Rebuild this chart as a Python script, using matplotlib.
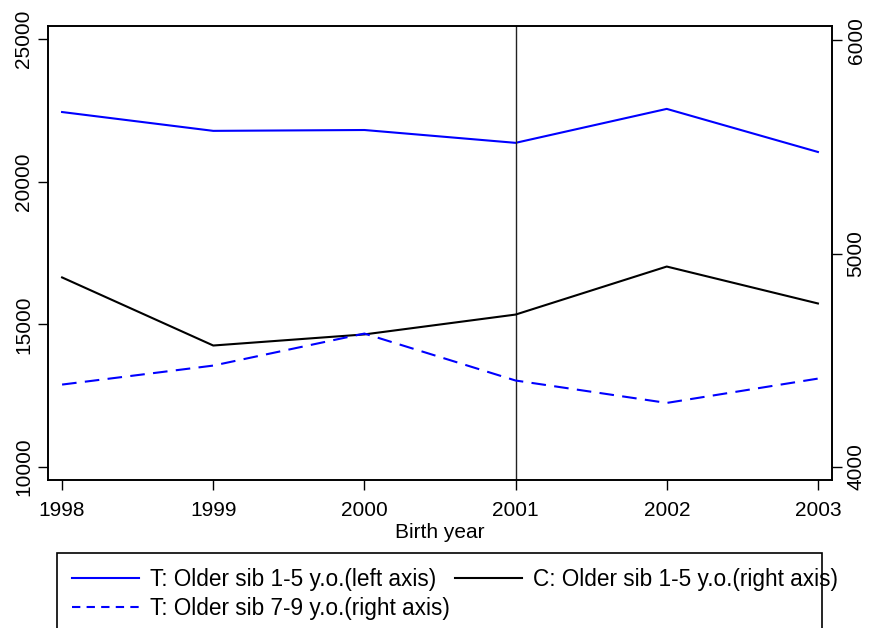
import matplotlib
matplotlib.use("Agg")
import matplotlib.pyplot as plt
from matplotlib.lines import Line2D
from matplotlib.patches import Rectangle

plt.rcParams['font.family'] = ['Liberation Sans', 'DejaVu Sans']

# ====== DATA ======
years = [1998, 1999, 2000, 2001, 2002, 2003]
treat_young = [22440, 21780, 21810, 21360, 22550, 21040]   # left axis
control_young = [4888, 4569, 4621, 4714, 4939, 4766]       # right axis
treat_old = [4386, 4475, 4625, 4405, 4300, 4414]           # right axis
cutoff_year = 2001

left_ticks = [10000, 15000, 20000, 25000]
right_ticks = [4000, 5000, 6000]

# ====== PLOT ======
fig = plt.figure(figsize=(8.7, 6.28), dpi=100)
ax = fig.add_axes([0.0552, 0.2357, 0.9011, 0.7229])
ax2 = ax.twinx()

ax.plot(years, treat_young, color="#0000ff", lw=1.5)
ax2.plot(years, control_young, color="black", lw=1.5)
ax2.plot(years, treat_old, color="#0000ff", lw=1.5, dashes=(7, 4))
ax.axvline(cutoff_year, color="#222222", lw=1.0)

ax.set_xlim(1997.907, 2003.093)
ax.set_ylim(9545, 25455)
ax2.set_ylim(3939, 6066)

ax.set_xticks(years)
ax.set_yticks(left_ticks)
ax2.set_yticks(right_ticks)
ax.set_yticklabels([str(v) for v in left_ticks], rotation=90, va="center")
ax2.set_yticklabels([str(v) for v in right_ticks], rotation=90, va="center")

for a in (ax, ax2):
    a.tick_params(direction="out", length=7, width=1.0, labelsize=15, colors="black")
    for s in a.spines.values():
        s.set_linewidth(1.2)
ax.tick_params(axis="x", pad=8)

ax.set_xlabel("Birth year", fontsize=15, labelpad=2)

handles = [
    Line2D([], [], color="#0000ff", lw=1.5),
    Line2D([], [], color="#0000ff", lw=1.5, dashes=(4, 3)),
    Line2D([], [], color="black", lw=1.5),
]
labels = [
    "T: Older sib 1-5 y.o.(left axis)",
    "T: Older sib 7-9 y.o.(right axis)",
    "C: Older sib 1-5 y.o.(right axis)",
]
leg = fig.legend(handles, labels, ncol=2, loc="upper left",
                 bbox_to_anchor=(57 / 870, 1 - 553 / 628), borderaxespad=0,
                 fontsize=16.3, frameon=False, handlelength=2.97,
                 columnspacing=0.22, handletextpad=0.48, labelspacing=0.26,
                 borderpad=0.67)

# legend box, cut off at the bottom of the figure like the original
fig.patches.append(Rectangle((57 / 870, -0.05), (822 - 57) / 870, 1 - 553 / 628 + 0.05,
                             transform=fig.transFigure, fill=False,
                             edgecolor="black", lw=1.2))

fig.savefig("out.png", dpi=100)
